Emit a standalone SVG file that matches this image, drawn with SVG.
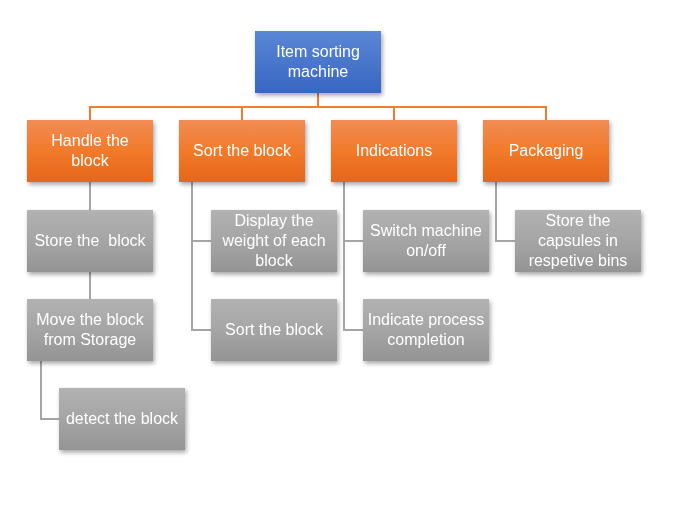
<svg xmlns="http://www.w3.org/2000/svg" width="694" height="528" viewBox="0 0 694 528">
<style>
text{font-family:"Liberation Sans",Arial,sans-serif;font-size:16px;fill:#fff;text-anchor:middle}
.o{stroke:#ed7d31;stroke-width:2;fill:none}
.g{stroke:#a5a5a5;stroke-width:2;fill:none}
</style>
<defs>
<linearGradient id="gb" x1="0" y1="0" x2="0" y2="1"><stop offset="0" stop-color="#5b87d5"/><stop offset="1" stop-color="#3766c2"/></linearGradient>
<linearGradient id="go" x1="0" y1="0" x2="0" y2="1"><stop offset="0" stop-color="#f18c55"/><stop offset="0.5" stop-color="#f27a2a"/><stop offset="1" stop-color="#e5661a"/></linearGradient>
<linearGradient id="gg" x1="0" y1="0" x2="0" y2="1"><stop offset="0" stop-color="#b2b2b2"/><stop offset="0.5" stop-color="#a5a5a5"/><stop offset="1" stop-color="#949494"/></linearGradient>
<filter id="sh" x="-10%" y="-10%" width="130%" height="140%"><feDropShadow dx="1.5" dy="2.5" stdDeviation="2" flood-opacity="0.35"/></filter>
</defs>
<rect width="694" height="528" fill="#fff"/>
<g id="connectors">
<path class="o" d="M318 93V107M90 107H546M90 106V120M242 106V120M394 106V120M546 106V120"/>
<path class="g" d="M90 182V210M90 272V299M41 361V419H59M192 182V330H211M192 241H211M344 182V330H363M344 241H363M496 182V241H515"/>
</g>
<g id="root" filter="url(#sh)"><rect x="255" y="31" width="126" height="62" fill="url(#gb)"/><text x="318" y="57">Item sorting</text><text x="318" y="77">machine</text></g>
<g id="handle" filter="url(#sh)"><rect x="27" y="120" width="126" height="62" fill="url(#go)"/><text x="90" y="146">Handle the</text><text x="90" y="166">block</text></g>
<g id="sort" filter="url(#sh)"><rect x="179" y="120" width="126" height="62" fill="url(#go)"/><text x="242" y="156">Sort the block</text></g>
<g id="indications" filter="url(#sh)"><rect x="331" y="120" width="126" height="62" fill="url(#go)"/><text x="394" y="156">Indications</text></g>
<g id="packaging" filter="url(#sh)"><rect x="483" y="120" width="126" height="62" fill="url(#go)"/><text x="546" y="156">Packaging</text></g>
<g id="store" filter="url(#sh)"><rect x="27" y="210" width="126" height="62" fill="url(#gg)"/><text x="90" y="246" xml:space="preserve">Store the  block</text></g>
<g id="move" filter="url(#sh)"><rect x="27" y="299" width="126" height="62" fill="url(#gg)"/><text x="90" y="325">Move the block</text><text x="90" y="345">from Storage</text></g>
<g id="detect" filter="url(#sh)"><rect x="59" y="388" width="126" height="62" fill="url(#gg)"/><text x="122" y="424">detect the block</text></g>
<g id="display" filter="url(#sh)"><rect x="211" y="210" width="126" height="62" fill="url(#gg)"/><text x="274" y="226">Display the</text><text x="274" y="246">weight of each</text><text x="274" y="266">block</text></g>
<g id="sort2" filter="url(#sh)"><rect x="211" y="299" width="126" height="62" fill="url(#gg)"/><text x="274" y="335">Sort the block</text></g>
<g id="switch" filter="url(#sh)"><rect x="363" y="210" width="126" height="62" fill="url(#gg)"/><text x="426" y="236">Switch machine</text><text x="426" y="256">on/off</text></g>
<g id="indicate" filter="url(#sh)"><rect x="363" y="299" width="126" height="62" fill="url(#gg)"/><text x="426" y="325">Indicate process</text><text x="426" y="345">completion</text></g>
<g id="capsules" filter="url(#sh)"><rect x="515" y="210" width="126" height="62" fill="url(#gg)"/><text x="578" y="226">Store the</text><text x="578" y="246">capsules in</text><text x="578" y="266">respetive bins</text></g>
</svg>
